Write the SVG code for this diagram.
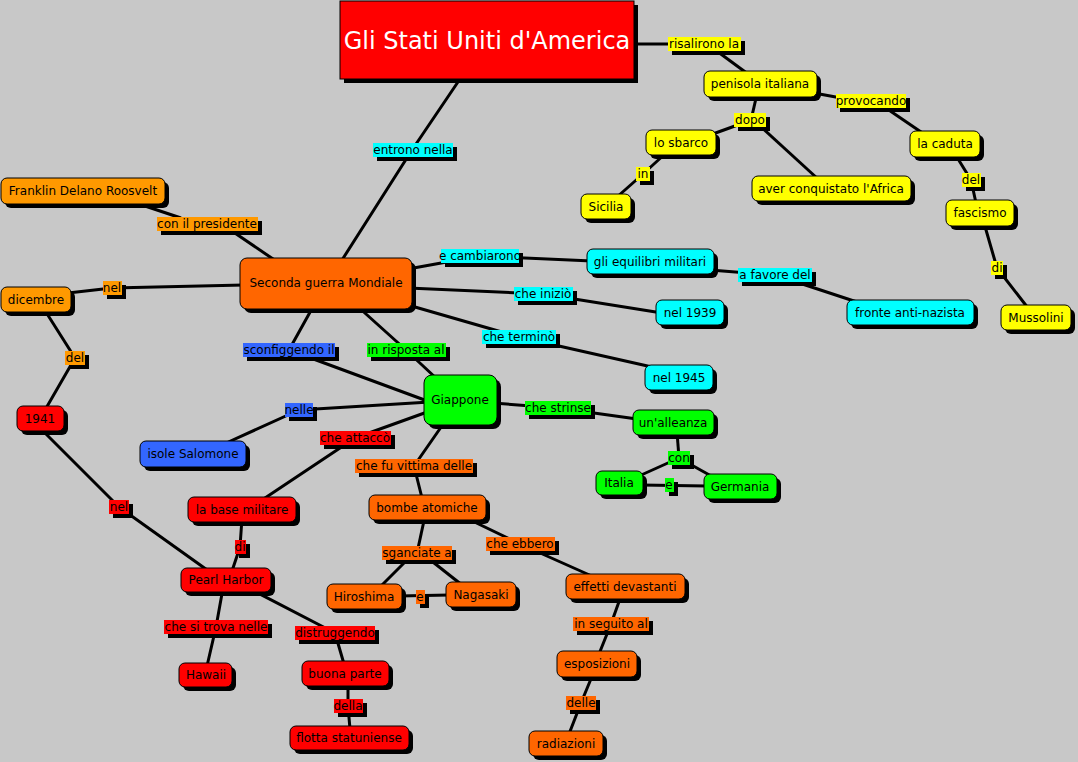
<svg xmlns="http://www.w3.org/2000/svg" width="1078" height="762" viewBox="0 0 1078 762">
<style>
text{font-family:"DejaVu Sans",Verdana,"Liberation Sans",sans-serif;font-size:12px;fill:#000;text-anchor:middle}
.sh{fill:#000}
.nd rect.b{stroke:#000;stroke-width:1}
.yel{fill:#ffff00}.lor{fill:#ff9900}.or{fill:#ff6600}.cy{fill:#00ffff}.gr{fill:#00ff00}.rd{fill:#ff0000}.bl{fill:#3366ff}
#connectors polyline{fill:none;stroke:#000;stroke-width:3;stroke-linejoin:round}
</style>
<rect width="1078" height="762" fill="#c8c8c8"/>
<g id="connectors">
<polyline points="462,76 412,150 342,260"/>
<polyline points="630,44 704,44"/>
<polyline points="714,49 748,74"/>
<polyline points="757,94 751,120"/>
<polyline points="746,122 710,135"/>
<polyline points="758,124 818,179"/>
<polyline points="666,153 643,174 617,197"/>
<polyline points="814,93 852,100"/>
<polyline points="880,104 924,134"/>
<polyline points="955,154 971,180 976,203"/>
<polyline points="984,223 997,268 1028,308"/>
<polyline points="133,202 181,218"/>
<polyline points="226,227 276,261"/>
<polyline points="68,293 112,288 244,285"/>
<polyline points="44,309 75,358 45,410"/>
<polyline points="40,428 119,507 210,572"/>
<polyline points="408,269 480,256 592,261"/>
<polyline points="710,270 775,275 860,303"/>
<polyline points="408,288 543,294 662,313"/>
<polyline points="408,305 519,337 652,367"/>
<polyline points="314,305 289,350 430,402"/>
<polyline points="356,305 406,350 437,379"/>
<polyline points="430,402 299,410 224,444"/>
<polyline points="430,411 355,438 262,500"/>
<polyline points="242,518 240,547 232,571"/>
<polyline points="223,588 216,627 207,666"/>
<polyline points="252,590 335,633 344,664"/>
<polyline points="348,682 348,706 350,729"/>
<polyline points="446,420 414,466 422,498"/>
<polyline points="425,516 417,553"/>
<polyline points="412,555 380,587"/>
<polyline points="424,555 462,585"/>
<polyline points="398,596 450,595"/>
<polyline points="462,516 520,544 594,577"/>
<polyline points="621,596 611,624 599,654"/>
<polyline points="593,674 581,703 569,734"/>
<polyline points="493,403 558,408 637,419"/>
<polyline points="677,432 679,458"/>
<polyline points="679,458 639,476"/>
<polyline points="679,458 713,477"/>
<polyline points="640,485 707,486"/>
</g>

<g id="n-title" class="nd">
<rect class="sh" x="344" y="5" width="294" height="78"/>
<rect class="b rd" x="340" y="1" width="294" height="78" stroke="#000"/>
<text x="487" y="49" style="font-size:24px;fill:#fff">Gli Stati Uniti d'America</text>
</g>
<g id="n-penisola" class="nd"><rect class="sh" x="708" y="75" width="113" height="26" rx="6"/><rect class="b yel" x="704" y="71" width="113" height="26" rx="6"/><text x="760" y="88">penisola italiana</text></g>
<g id="n-sbarco" class="nd"><rect class="sh" x="650" y="134" width="70" height="25" rx="6"/><rect class="b yel" x="646" y="130" width="70" height="25" rx="6"/><text x="681" y="147">lo sbarco</text></g>
<g id="n-sicilia" class="nd"><rect class="sh" x="585" y="198" width="50" height="25" rx="6"/><rect class="b yel" x="581" y="194" width="50" height="25" rx="6"/><text x="606" y="211">Sicilia</text></g>
<g id="n-africa" class="nd"><rect class="sh" x="756" y="180" width="159" height="25" rx="6"/><rect class="b yel" x="752" y="176" width="159" height="25" rx="6"/><text x="831" y="193">aver conquistato l'Africa</text></g>
<g id="n-caduta" class="nd"><rect class="sh" x="914" y="135" width="70" height="26" rx="6"/><rect class="b yel" x="910" y="131" width="70" height="26" rx="6"/><text x="945" y="148">la caduta</text></g>
<g id="n-fascismo" class="nd"><rect class="sh" x="950" y="204" width="68" height="26" rx="6"/><rect class="b yel" x="946" y="200" width="68" height="26" rx="6"/><text x="980" y="217">fascismo</text></g>
<g id="n-mussolini" class="nd"><rect class="sh" x="1005" y="309" width="70" height="25" rx="6"/><rect class="b yel" x="1001" y="305" width="70" height="25" rx="6"/><text x="1036" y="322">Mussolini</text></g>
<g id="n-franklin" class="nd"><rect class="sh" x="5" y="182" width="164" height="26" rx="6"/><rect class="b lor" x="1" y="178" width="164" height="26" rx="6"/><text x="83" y="195">Franklin Delano Roosvelt</text></g>
<g id="n-seconda" class="nd"><rect class="sh" x="244" y="262" width="172" height="51" rx="7"/><rect class="b or" x="240" y="258" width="172" height="51" rx="7"/><text x="326" y="287">Seconda guerra Mondiale</text></g>
<g id="n-dicembre" class="nd"><rect class="sh" x="5" y="291" width="70" height="25" rx="6"/><rect class="b lor" x="1" y="287" width="70" height="25" rx="6"/><text x="36" y="304">dicembre</text></g>
<g id="n-1941" class="nd"><rect class="sh" x="21" y="410" width="47" height="25" rx="6"/><rect class="b rd" x="17" y="406" width="47" height="25" rx="6"/><text x="40" y="423">1941</text></g>
<g id="n-equilibri" class="nd"><rect class="sh" x="591" y="253" width="127" height="25" rx="6"/><rect class="b cy" x="587" y="249" width="127" height="25" rx="6"/><text x="650" y="266">gli equilibri militari</text></g>
<g id="n-fronte" class="nd"><rect class="sh" x="851" y="304" width="127" height="25" rx="6"/><rect class="b cy" x="847" y="300" width="127" height="25" rx="6"/><text x="910" y="317">fronte anti-nazista</text></g>
<g id="n-1939" class="nd"><rect class="sh" x="660" y="304" width="68" height="25" rx="6"/><rect class="b cy" x="656" y="300" width="68" height="25" rx="6"/><text x="690" y="317">nel 1939</text></g>
<g id="n-1945" class="nd"><rect class="sh" x="649" y="369" width="68" height="25" rx="6"/><rect class="b cy" x="645" y="365" width="68" height="25" rx="6"/><text x="679" y="382">nel 1945</text></g>
<g id="n-giappone" class="nd"><rect class="sh" x="428" y="379" width="73" height="50" rx="8"/><rect class="b gr" x="424" y="375" width="73" height="50" rx="8"/><text x="460" y="404">Giappone</text></g>
<g id="n-salomone" class="nd"><rect class="sh" x="144" y="445" width="106" height="26" rx="6"/><rect class="b bl" x="140" y="441" width="106" height="26" rx="6"/><text x="193" y="458">isole Salomone</text></g>
<g id="n-base" class="nd"><rect class="sh" x="192" y="501" width="108" height="25" rx="6"/><rect class="b rd" x="188" y="497" width="108" height="25" rx="6"/><text x="242" y="514">la base militare</text></g>
<g id="n-pearl" class="nd"><rect class="sh" x="185" y="572" width="90" height="24" rx="6"/><rect class="b rd" x="181" y="568" width="90" height="24" rx="6"/><text x="226" y="584">Pearl Harbor</text></g>
<g id="n-hawaii" class="nd"><rect class="sh" x="183" y="667" width="53" height="24" rx="6"/><rect class="b rd" x="179" y="663" width="53" height="24" rx="6"/><text x="206" y="679">Hawaii</text></g>
<g id="n-buona" class="nd"><rect class="sh" x="306" y="665" width="87" height="25" rx="6"/><rect class="b rd" x="302" y="661" width="87" height="25" rx="6"/><text x="345" y="678">buona parte</text></g>
<g id="n-flotta" class="nd"><rect class="sh" x="294" y="730" width="119" height="24" rx="6"/><rect class="b rd" x="290" y="726" width="119" height="24" rx="6"/><text x="349" y="742">flotta statuniense</text></g>
<g id="n-bombe" class="nd"><rect class="sh" x="373" y="499" width="117" height="25" rx="6"/><rect class="b or" x="369" y="495" width="117" height="25" rx="6"/><text x="427" y="512">bombe atomiche</text></g>
<g id="n-hiroshima" class="nd"><rect class="sh" x="331" y="588" width="75" height="25" rx="6"/><rect class="b or" x="327" y="584" width="75" height="25" rx="6"/><text x="364" y="601">Hiroshima</text></g>
<g id="n-nagasaki" class="nd"><rect class="sh" x="450" y="586" width="70" height="25" rx="6"/><rect class="b or" x="446" y="582" width="70" height="25" rx="6"/><text x="481" y="599">Nagasaki</text></g>
<g id="n-effetti" class="nd"><rect class="sh" x="570" y="578" width="119" height="25" rx="6"/><rect class="b or" x="566" y="574" width="119" height="25" rx="6"/><text x="625" y="591">effetti devastanti</text></g>
<g id="n-esposizioni" class="nd"><rect class="sh" x="561" y="655" width="80" height="26" rx="6"/><rect class="b or" x="557" y="651" width="80" height="26" rx="6"/><text x="597" y="668">esposizioni</text></g>
<g id="n-radiazioni" class="nd"><rect class="sh" x="533" y="735" width="74" height="25" rx="6"/><rect class="b or" x="529" y="731" width="74" height="25" rx="6"/><text x="566" y="748">radiazioni</text></g>
<g id="n-alleanza" class="nd"><rect class="sh" x="637" y="414" width="81" height="25" rx="6"/><rect class="b gr" x="633" y="410" width="81" height="25" rx="6"/><text x="673" y="427">un'alleanza</text></g>
<g id="n-italia" class="nd"><rect class="sh" x="600" y="475" width="47" height="24" rx="6"/><rect class="b gr" x="596" y="471" width="47" height="24" rx="6"/><text x="619" y="487">Italia</text></g>
<g id="n-germania" class="nd"><rect class="sh" x="708" y="478" width="73" height="25" rx="6"/><rect class="b gr" x="704" y="474" width="73" height="25" rx="6"/><text x="740" y="491">Germania</text></g>

<g id="l-risalirono"><rect class="sh" x="672" y="41" width="73" height="14"/><rect class="yel" x="668" y="37" width="73" height="14"/><text x="704" y="48">risalirono la</text></g>
<g id="l-provocando"><rect class="sh" x="840" y="98" width="70" height="14"/><rect class="yel" x="836" y="94" width="70" height="14"/><text x="871" y="105">provocando</text></g>
<g id="l-dopo"><rect class="sh" x="738" y="117" width="32" height="14"/><rect class="yel" x="734" y="113" width="32" height="14"/><text x="750" y="124">dopo</text></g>
<g id="l-in"><rect class="sh" x="640" y="171" width="14" height="14"/><rect class="yel" x="636" y="167" width="14" height="14"/><text x="643" y="178">in</text></g>
<g id="l-del-y"><rect class="sh" x="966" y="177" width="19" height="14"/><rect class="yel" x="962" y="173" width="19" height="14"/><text x="971" y="184">del</text></g>
<g id="l-di-y"><rect class="sh" x="995" y="265" width="12" height="14"/><rect class="yel" x="991" y="261" width="12" height="14"/><text x="997" y="272">di</text></g>
<g id="l-entrono"><rect class="sh" x="377" y="147" width="80" height="14"/><rect class="cy" x="373" y="143" width="80" height="14"/><text x="413" y="154">entrono nella</text></g>
<g id="l-presidente"><rect class="sh" x="161" y="221" width="101" height="14"/><rect class="lor" x="157" y="217" width="101" height="14"/><text x="207" y="228">con il presidente</text></g>
<g id="l-nel-o"><rect class="sh" x="107" y="285" width="19" height="14"/><rect class="lor" x="103" y="281" width="19" height="14"/><text x="112" y="292">nel</text></g>
<g id="l-del-o"><rect class="sh" x="69" y="355" width="20" height="14"/><rect class="lor" x="65" y="351" width="20" height="14"/><text x="75" y="362">del</text></g>
<g id="l-nel-r"><rect class="sh" x="113" y="504" width="20" height="14"/><rect class="rd" x="109" y="500" width="20" height="14"/><text x="119" y="511">nel</text></g>
<g id="l-cambiarono"><rect class="sh" x="445" y="253" width="78" height="14"/><rect class="cy" x="441" y="249" width="78" height="14"/><text x="480" y="260">e cambiarono</text></g>
<g id="l-favore"><rect class="sh" x="742" y="272" width="74" height="14"/><rect class="cy" x="738" y="268" width="74" height="14"/><text x="775" y="279">a favore del</text></g>
<g id="l-inizio"><rect class="sh" x="518" y="291" width="59" height="14"/><rect class="cy" x="514" y="287" width="59" height="14"/><text x="543" y="298">che iniziò</text></g>
<g id="l-termino"><rect class="sh" x="486" y="334" width="74" height="14"/><rect class="cy" x="482" y="330" width="74" height="14"/><text x="519" y="341">che terminò</text></g>
<g id="l-sconfiggendo"><rect class="sh" x="247" y="347" width="92" height="14"/><rect class="bl" x="243" y="343" width="92" height="14"/><text x="289" y="354">sconfiggendo il</text></g>
<g id="l-risposta"><rect class="sh" x="371" y="347" width="79" height="14"/><rect class="gr" x="367" y="343" width="79" height="14"/><text x="406" y="354">in risposta al</text></g>
<g id="l-nelle"><rect class="sh" x="289" y="407" width="28" height="14"/><rect class="bl" x="285" y="403" width="28" height="14"/><text x="299" y="414">nelle</text></g>
<g id="l-attacco"><rect class="sh" x="324" y="435" width="71" height="14"/><rect class="rd" x="320" y="431" width="71" height="14"/><text x="355" y="442">che attaccò</text></g>
<g id="l-di-r"><rect class="sh" x="239" y="544" width="11" height="14"/><rect class="rd" x="235" y="540" width="11" height="14"/><text x="240" y="551">di</text></g>
<g id="l-trova"><rect class="sh" x="168" y="624" width="104" height="14"/><rect class="rd" x="164" y="620" width="104" height="14"/><text x="216" y="631">che si trova nelle</text></g>
<g id="l-distruggendo"><rect class="sh" x="299" y="630" width="80" height="14"/><rect class="rd" x="295" y="626" width="80" height="14"/><text x="335" y="637">distruggendo</text></g>
<g id="l-della"><rect class="sh" x="338" y="703" width="29" height="14"/><rect class="rd" x="334" y="699" width="29" height="14"/><text x="348" y="710">della</text></g>
<g id="l-vittima"><rect class="sh" x="359" y="463" width="118" height="14"/><rect class="or" x="355" y="459" width="118" height="14"/><text x="414" y="470">che fu vittima delle</text></g>
<g id="l-sganciate"><rect class="sh" x="386" y="550" width="70" height="14"/><rect class="or" x="382" y="546" width="70" height="14"/><text x="417" y="557">sganciate a</text></g>
<g id="l-e-o"><rect class="sh" x="420" y="594" width="9" height="14"/><rect class="or" x="416" y="590" width="9" height="14"/><text x="420" y="601">e</text></g>
<g id="l-ebbero"><rect class="sh" x="490" y="541" width="69" height="14"/><rect class="or" x="486" y="537" width="69" height="14"/><text x="520" y="548">che ebbero</text></g>
<g id="l-seguito"><rect class="sh" x="577" y="621" width="76" height="14"/><rect class="or" x="573" y="617" width="76" height="14"/><text x="611" y="628">in seguito al</text></g>
<g id="l-delle"><rect class="sh" x="570" y="700" width="30" height="14"/><rect class="or" x="566" y="696" width="30" height="14"/><text x="581" y="707">delle</text></g>
<g id="l-strinse"><rect class="sh" x="529" y="405" width="66" height="14"/><rect class="gr" x="525" y="401" width="66" height="14"/><text x="558" y="412">che strinse</text></g>
<g id="l-con"><rect class="sh" x="672" y="455" width="22" height="14"/><rect class="gr" x="668" y="451" width="22" height="14"/><text x="679" y="462">con</text></g>
<g id="l-e-g"><rect class="sh" x="669" y="482" width="9" height="14"/><rect class="gr" x="665" y="478" width="9" height="14"/><text x="669" y="489">e</text></g>
</svg>
